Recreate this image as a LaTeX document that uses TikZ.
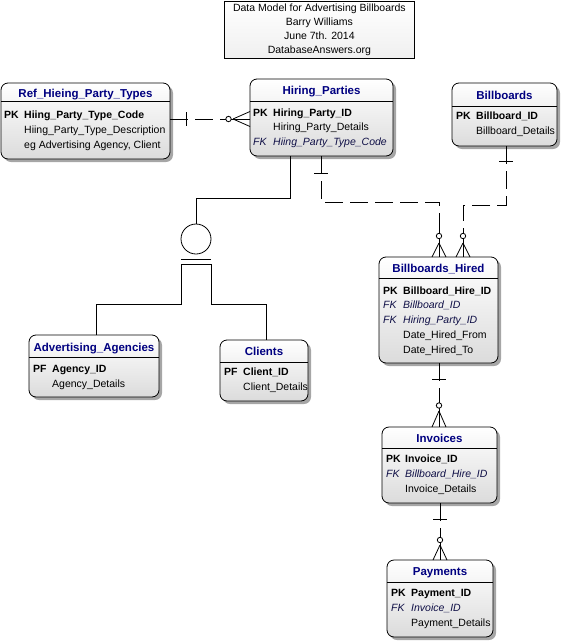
\documentclass[tikz,border=0pt]{standalone}
\usepackage{fontspec}
\setmainfont{Liberation Sans}
\usetikzlibrary{shadows,calc}
\definecolor{navy}{RGB}{0,0,128}
\definecolor{fkcol}{RGB}{15,15,70}
\begin{document}
\begin{tikzpicture}[x=1pt,y=-1pt,
  ent/.style={draw=black, line width=0.8pt, rounded corners=7pt,
    top color=white, bottom color=black!14,
    drop shadow={shadow xshift=3pt, shadow yshift=-3pt, fill=black!35, opacity=1},
    anchor=north west, inner sep=0pt, outer sep=0pt},
  hdr/.style={line width=0.8pt},
  ttl/.style={font=\fontsize{11.5}{13}\selectfont\bfseries, text=navy, inner sep=0pt,
    text height=8.3pt, text depth=0pt},
  txt/.style={font=\fontsize{10.5}{12}\selectfont, anchor=west, inner sep=0pt,
    text height=7.5pt, text depth=0pt},
  pk/.style={txt, font=\fontsize{10.5}{12}\selectfont\bfseries},
  fk/.style={txt, font=\fontsize{10.5}{12}\selectfont\itshape, text=fkcol},
  rel/.style={line width=0.8pt, dash pattern=on 18pt off 7pt},
  solidln/.style={line width=0.8pt},
  ring/.style={line width=0.8pt, fill=white},
]
\useasboundingbox (0,0) rectangle (563,643);

% title box
\node[draw=black, line width=0.8pt, top color=white, bottom color=black!6,
  minimum width=190pt, minimum height=57pt, anchor=north west, inner sep=0pt,
  align=center, font=\fontsize{10.5}{14}\selectfont] (title) at (224,0.5)
  {Data Model for Advertising Billboards\\Barry Williams\\June 7th. 2014\\DatabaseAnswers.org};

% Ref_Hieing_Party_Types
\node[ent, minimum width=169pt, minimum height=76pt] (rht) at (1,83) {};
\draw[hdr] (rht.west |- 0,101) -- (rht.east |- 0,101);
\node[ttl] (rht-t) at (85.5,93) {Ref\_Hieing\_Party\_Types};
\node[pk] (rht-k1) at (4,115) {PK};
\node[pk] (rht-a1) at (24,115) {Hiing\_Party\_Type\_Code};
\node[txt] (rht-a2) at (24,130) {Hiing\_Party\_Type\_Description};
\node[txt] (rht-a3) at (24,145) {eg Advertising Agency, Client};

% Hiring_Parties
\node[ent, minimum width=143pt, minimum height=77pt] (hp) at (250,79) {};
\draw[hdr] (hp.west |- 0,101.5) -- (hp.east |- 0,101.5);
\node[ttl] (hp-t) at (321.5,90) {Hiring\_Parties};
\node[pk] (hp-k1) at (253,112.5) {PK};
\node[pk] (hp-a1) at (273,112.5) {Hiring\_Party\_ID};
\node[txt] (hp-a2) at (273,127) {Hiring\_Party\_Details};
\node[fk] (hp-k3) at (253,142) {FK};
\node[fk] (hp-a3) at (273,142) {Hiing\_Party\_Type\_Code};

% Billboards
\node[ent, minimum width=105pt, minimum height=63pt] (bb) at (452,83) {};
\draw[hdr] (bb.west |- 0,106) -- (bb.east |- 0,106);
\node[ttl] (bb-t) at (504.5,95) {Billboards};
\node[pk] (bb-k1) at (456,116) {PK};
\node[pk] (bb-a1) at (476,116) {Billboard\_ID};
\node[txt] (bb-a2) at (476,131) {Billboard\_Details};

% Billboards_Hired
\node[ent, minimum width=119pt, minimum height=106pt] (bh) at (379,257) {};
\draw[hdr] (bh.west |- 0,278) -- (bh.east |- 0,278);
\node[ttl] (bh-t) at (438.5,268.5) {Billboards\_Hired};
\node[pk] (bh-k1) at (383,290.5) {PK};
\node[pk] (bh-a1) at (403,290.5) {Billboard\_Hire\_ID};
\node[fk] (bh-k2) at (383,305) {FK};
\node[fk] (bh-a2) at (403,305) {Billboard\_ID};
\node[fk] (bh-k3) at (383,320) {FK};
\node[fk] (bh-a3) at (403,320) {Hiring\_Party\_ID};
\node[txt] (bh-a4) at (403,335) {Date\_Hired\_From};
\node[txt] (bh-a5) at (403,350) {Date\_Hired\_To};

% Invoices
\node[ent, minimum width=115pt, minimum height=76pt] (inv) at (382,427) {};
\draw[hdr] (inv.west |- 0,448) -- (inv.east |- 0,448);
\node[ttl] (inv-t) at (439.5,438) {Invoices};
\node[pk] (inv-k1) at (386,459) {PK};
\node[pk] (inv-a1) at (405,459) {Invoice\_ID};
\node[fk] (inv-k2) at (386,474) {FK};
\node[fk] (inv-a2) at (405,474) {Billboard\_Hire\_ID};
\node[txt] (inv-a3) at (405,489) {Invoice\_Details};

% Payments
\node[ent, minimum width=106pt, minimum height=77pt] (pay) at (387,560) {};
\draw[hdr] (pay.west |- 0,582) -- (pay.east |- 0,582);
\node[ttl] (pay-t) at (440,571.5) {Payments};
\node[pk] (pay-k1) at (391,593) {PK};
\node[pk] (pay-a1) at (411,593) {Payment\_ID};
\node[fk] (pay-k2) at (391,608) {FK};
\node[fk] (pay-a2) at (411,608) {Invoice\_ID};
\node[txt] (pay-a3) at (411,623) {Payment\_Details};

% Advertising_Agencies
\node[ent, minimum width=130pt, minimum height=62pt] (aa) at (29,335) {};
\draw[hdr] (aa.west |- 0,357) -- (aa.east |- 0,357);
\node[ttl] (aa-t) at (94,347) {Advertising\_Agencies};
\node[pk] (aa-k1) at (33,369) {PF};
\node[pk] (aa-a1) at (52,369) {Agency\_ID};
\node[txt] (aa-a2) at (52,383.5) {Agency\_Details};

% Clients
\node[ent, minimum width=88pt, minimum height=61pt] (cl) at (220,340) {};
\draw[hdr] (cl.west |- 0,362) -- (cl.east |- 0,362);
\node[ttl] (cl-t) at (264,351) {Clients};
\node[pk] (cl-k1) at (224,372) {PF};
\node[pk] (cl-a1) at (243,372) {Client\_ID};
\node[txt] (cl-a2) at (243,387) {Client\_Details};

% ---- relationships ----
% Ref -> Hiring_Parties
\draw[rel] (rht.east |- 0,119) -- (hp.west |- 0,119);
\draw[solidln] (186,112) -- (186,126);
\draw[solidln] (222,119) -- (hp.west |- 0,119);
\draw[solidln] (233,119) -- (hp.west |- 0,111.5);
\draw[solidln] (233,119) -- (hp.west |- 0,126.5);
\draw[ring] (228.5,119) circle (2.7);

% Hiring_Parties -> Billboards_Hired
\draw[rel] (hp.south -| 321,0) -- (321,202) -- (439,202) -- (bh.north -| 439,0);
\draw[solidln] (314,173) -- (328,173);
\draw[solidln] (439,230) -- (bh.north -| 439,0);
\draw[solidln] (439,243) -- (bh.north -| 432,0);
\draw[solidln] (439,243) -- (bh.north -| 446,0);
\draw[ring] (439,236) circle (2.7);

% Billboards -> Billboards_Hired
\draw[rel] (bb.south -| 506,0) -- (506,205) -- (463,205) -- (bh.north -| 463,0);
\draw[solidln] (499,161) -- (513,161);
\draw[solidln] (463,230) -- (bh.north -| 463,0);
\draw[solidln] (463,243) -- (bh.north -| 456,0);
\draw[solidln] (463,243) -- (bh.north -| 470,0);
\draw[ring] (463,236) circle (2.7);

% Billboards_Hired -> Invoices
\draw[rel] (bh.south -| 439,0) -- (inv.north -| 439,0);
\draw[solidln] (432,379) -- (446,379);
\draw[solidln] (439,400) -- (inv.north -| 439,0);
\draw[solidln] (439,411) -- (inv.north -| 432,0);
\draw[solidln] (439,411) -- (inv.north -| 446,0);
\draw[ring] (439,405.5) circle (2.7);

% Invoices -> Payments
\draw[rel] (inv.south -| 440,0) -- (pay.north -| 440,0);
\draw[solidln] (433,519) -- (447,519);
\draw[solidln] (440,534) -- (pay.north -| 440,0);
\draw[solidln] (440,545) -- (pay.north -| 433,0);
\draw[solidln] (440,545) -- (pay.north -| 447,0);
\draw[ring] (440,540) circle (2.7);

% ---- subtype (category) ----
\node[circle, draw=black, line width=0.8pt, minimum size=30pt, inner sep=0pt] (sc) at (196,239) {};
\draw[solidln] (hp.south -| 290,0) -- (290,198) -- (196,198) -- (sc.north);
\draw[solidln] (181,259) -- (211,259);
\draw[solidln] (aa.north -| 96,0) -- (96,304) -- (181,304) -- (181,264) -- (211,264)
  -- (211,304) -- (266,304) -- (cl.north -| 266,0);
\end{tikzpicture}
\end{document}
